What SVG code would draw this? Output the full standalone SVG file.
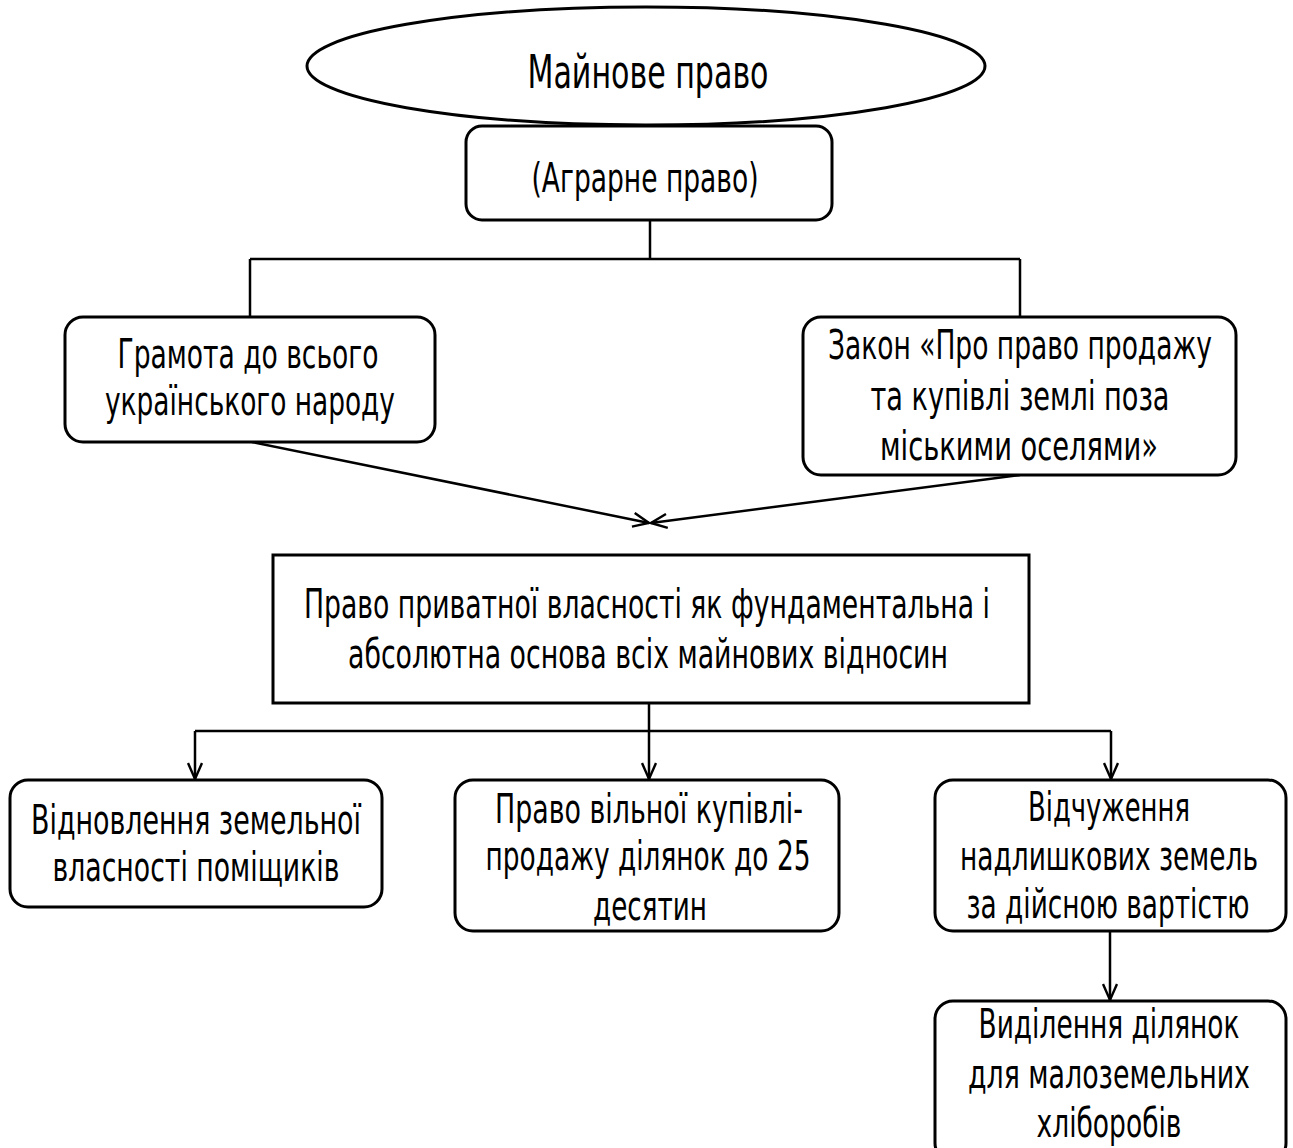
<svg xmlns="http://www.w3.org/2000/svg" width="1293" height="1148" viewBox="0 0 1293 1148">
<style>
  .box { fill: #ffffff; stroke: #000000; stroke-width: 3; }
  .t { font-family: "Liberation Sans Narrow", "DejaVu Sans Condensed", "Liberation Sans", sans-serif; font-size: 41px; fill: #000000; text-anchor: middle; }
  .big { font-size: 47px; }
  .con { fill: none; stroke: #000000; stroke-width: 2.5; }
</style>
<defs>
  <marker id="arr" viewBox="0 0 18 16" refX="17" refY="8" markerWidth="18" markerHeight="16" markerUnits="userSpaceOnUse" orient="auto">
    <path d="M1,1 L17,8 L1,15" fill="none" stroke="#000000" stroke-width="2.4"/>
  </marker>
</defs>
<rect width="1293" height="1148" fill="#ffffff"/>

<g id="connectors">
  <path class="con" d="M650,220 L650,259"/>
  <path class="con" d="M250,259 L1020,259"/>
  <path class="con" d="M250,259 L250,317"/>
  <path class="con" d="M1020,259 L1020,317"/>
  <path class="con" d="M252,442 L649,523" marker-end="url(#arr)"/>
  <path class="con" d="M1020,475 L651,523" marker-end="url(#arr)"/>
  <path class="con" d="M649,703 L649,731"/>
  <path class="con" d="M195,731 L1111,731"/>
  <path class="con" d="M195,731 L195,779" marker-end="url(#arr)"/>
  <path class="con" d="M649,731 L649,779" marker-end="url(#arr)"/>
  <path class="con" d="M1111,731 L1111,779" marker-end="url(#arr)"/>
  <path class="con" d="M1110,931 L1110,1000" marker-end="url(#arr)"/>
</g>

<g id="n-mainove">
  <ellipse class="box" cx="646" cy="66" rx="339" ry="59"/>
  <text class="t big" x="648" y="88" textLength="241" lengthAdjust="spacingAndGlyphs">Майнове право</text>
</g>

<g id="n-agrarne">
  <rect class="box" x="466" y="126" width="366" height="94" rx="16"/>
  <text class="t" x="645" y="192" textLength="227" lengthAdjust="spacingAndGlyphs">(Аграрне право)</text>
</g>

<g id="n-hramota">
  <rect class="box" x="65" y="317" width="370" height="125" rx="18"/>
  <text class="t" x="248" y="368" textLength="261" lengthAdjust="spacingAndGlyphs">Грамота до всього</text>
  <text class="t" x="250" y="415" textLength="290" lengthAdjust="spacingAndGlyphs">українського народу</text>
</g>

<g id="n-zakon">
  <rect class="box" x="803" y="317" width="433" height="158" rx="18"/>
  <text class="t" x="1020" y="359" textLength="384" lengthAdjust="spacingAndGlyphs">Закон «Про право продажу</text>
  <text class="t" x="1020" y="410" textLength="299" lengthAdjust="spacingAndGlyphs">та купівлі землі поза</text>
  <text class="t" x="1019" y="460" textLength="278" lengthAdjust="spacingAndGlyphs">міськими оселями»</text>
</g>

<g id="n-pravo">
  <rect class="box" x="273" y="555" width="756" height="148"/>
  <text class="t" x="647" y="618" textLength="686" lengthAdjust="spacingAndGlyphs">Право приватної власності як фундаментальна і</text>
  <text class="t" x="648" y="668" textLength="600" lengthAdjust="spacingAndGlyphs">абсолютна основа всіх майнових відносин</text>
</g>

<g id="n-vidnovlennia">
  <rect class="box" x="10" y="780" width="372" height="127" rx="18"/>
  <text class="t" x="196" y="834" textLength="330" lengthAdjust="spacingAndGlyphs">Відновлення земельної</text>
  <text class="t" x="196" y="881" textLength="287" lengthAdjust="spacingAndGlyphs">власності поміщиків</text>
</g>

<g id="n-vilnoi">
  <rect class="box" x="455" y="780" width="384" height="151" rx="18"/>
  <text class="t" x="649" y="823" textLength="308" lengthAdjust="spacingAndGlyphs">Право вільної купівлі-</text>
  <text class="t" x="648" y="870" textLength="325" lengthAdjust="spacingAndGlyphs">продажу ділянок до 25</text>
  <text class="t" x="650" y="920" textLength="114" lengthAdjust="spacingAndGlyphs">десятин</text>
</g>

<g id="n-vidchuzhennia">
  <rect class="box" x="935" y="780" width="351" height="151" rx="18"/>
  <text class="t" x="1109" y="821" textLength="162" lengthAdjust="spacingAndGlyphs">Відчуження</text>
  <text class="t" x="1109" y="870" textLength="298" lengthAdjust="spacingAndGlyphs">надлишкових земель</text>
  <text class="t" x="1108" y="918" textLength="283" lengthAdjust="spacingAndGlyphs">за дійсною вартістю</text>
</g>

<g id="n-vydilennia">
  <rect class="box" x="935" y="1001" width="351" height="160" rx="18"/>
  <text class="t" x="1109" y="1038" textLength="261" lengthAdjust="spacingAndGlyphs">Виділення ділянок</text>
  <text class="t" x="1109" y="1088" textLength="282" lengthAdjust="spacingAndGlyphs">для малоземельних</text>
  <text class="t" x="1109" y="1137" textLength="145" lengthAdjust="spacingAndGlyphs">хліборобів</text>
</g>
</svg>
